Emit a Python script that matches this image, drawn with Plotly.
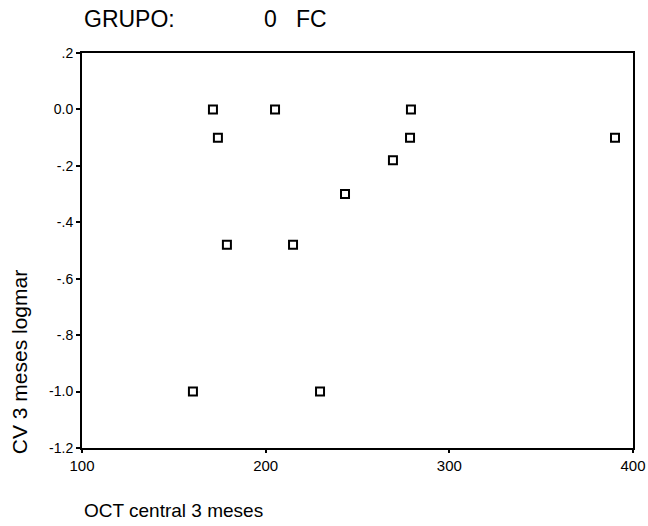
import plotly.graph_objects as go

oct_central = [160.4, 171.3, 174.0, 178.9, 205.1, 214.9, 229.6, 243.2, 269.3, 278.6, 279.1, 390.2]
cv_logmar = [-1.0, 0.0, -0.1, -0.48, 0.0, -0.48, -1.0, -0.3, -0.18, -0.1, 0.0, -0.1]

y_tickvals = [0.2, 0.0, -0.2, -0.4, -0.6, -0.8, -1.0, -1.2]
y_ticktext = [".2", "0.0", "-.2", "-.4", "-.6", "-.8", "-1.0", "-1.2"]
x_tickvals = [100, 200, 300, 400]

font = "Arial, Liberation Sans, sans-serif"

fig = go.Figure()
fig.add_trace(go.Scatter(
    x=oct_central, y=cv_logmar, mode="markers",
    marker=dict(symbol="square-open", size=8, color="black", line=dict(width=2, color="black")),
    showlegend=False,
))

fig.update_layout(
    width=648, height=526,
    margin=dict(l=82, r=15, t=53, b=78),
    paper_bgcolor="white", plot_bgcolor="white",
    font=dict(family=font, color="black", size=14),
    xaxis=dict(range=[100, 400], tickvals=x_tickvals, showgrid=False, zeroline=False,
               automargin=False,
               showline=True, linecolor="black", linewidth=1.5, mirror=True,
               ticks="outside", ticklen=3, tickwidth=2, tickcolor="black",
               tickfont=dict(size=15)),
    yaxis=dict(range=[-1.2, 0.2], tickvals=y_tickvals, ticktext=y_ticktext, showgrid=False,
               automargin=False,
               zeroline=False, showline=True, linecolor="black", linewidth=2, mirror=True,
               ticks="outside", ticklen=4, tickwidth=2, tickcolor="black",
               tickfont=dict(size=14)),
    annotations=[
        dict(text="GRUPO:", xref="paper", yref="paper", x=0.0, y=1.086, xanchor="left",
             yanchor="middle", showarrow=False, font=dict(size=23)),
        dict(text="0&nbsp;&nbsp;&nbsp;FC", xref="paper", yref="paper", x=0.326, y=1.086,
             xanchor="left", yanchor="middle", showarrow=False, font=dict(size=23)),
        dict(text="OCT central 3 meses", xref="paper", yref="paper", x=0.0, y=-0.159,
             xanchor="left", yanchor="middle", showarrow=False, font=dict(size=19)),
        dict(text="CV 3 meses logmar", xref="paper", yref="paper", x=-0.112, y=0.218,
             xanchor="center", yanchor="middle", textangle=-90, showarrow=False,
             font=dict(size=21)),
    ],
)

fig.write_html("out.html")
